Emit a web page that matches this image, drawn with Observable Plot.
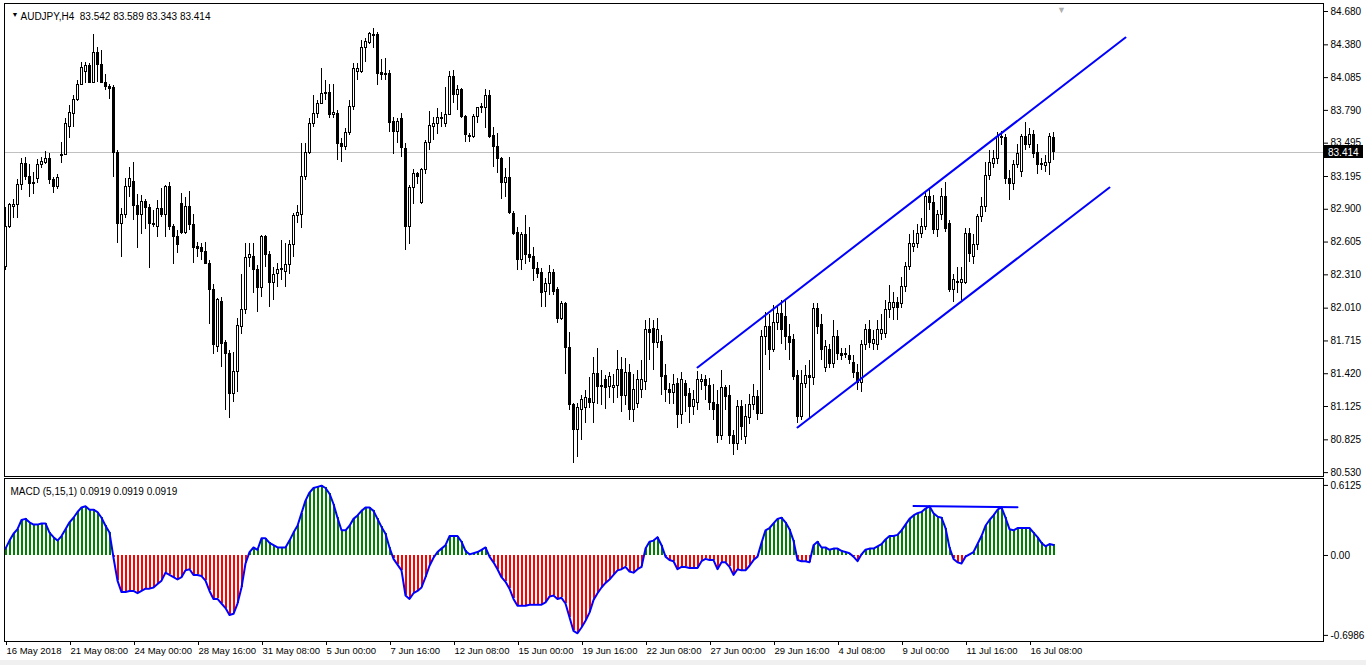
<!DOCTYPE html>
<html><head><meta charset="utf-8">
<script src="https://cdn.jsdelivr.net/npm/d3@7"></script>
<script src="https://cdn.jsdelivr.net/npm/@observablehq/plot@0.6"></script>
<style>
html,body{margin:0;padding:0;background:#f0f0f0;}
#chart{width:1366px;height:660px;background:#fff;overflow:hidden;}
#chart svg{display:block;}
</style></head><body><div id="chart"></div>
<script>
const symbol = "AUDJPY";
const timeframe = "H4";
const open = [
82.38,82.74,82.92,82.94,83.12,83.31,83.19,83.14,83.17,83.30,
83.32,83.35,83.16,83.10,83.38,83.39,83.64,83.76,83.88,84.02,
84.14,84.19,84.04,84.31,84.20,84.04,84.00,83.99,83.41,82.77,
82.85,83.10,83.15,82.93,82.85,82.97,82.91,82.77,82.74,82.90,
82.85,83.10,82.74,82.65,82.95,82.69,82.92,82.76,82.56,82.55,
82.52,82.41,82.17,81.66,82.07,81.70,81.60,81.24,81.44,81.84,
81.99,82.46,82.47,82.35,82.19,82.65,82.49,82.24,82.32,82.35,
82.34,82.40,82.58,82.84,82.85,83.19,83.41,83.67,83.76,83.85,
83.94,83.95,83.75,83.76,83.49,83.46,83.59,83.82,84.14,84.14,
84.35,84.40,84.47,84.47,84.13,84.11,84.12,83.69,83.60,83.71,
83.44,82.74,83.09,83.22,82.96,83.25,83.50,83.64,83.67,83.72,
83.67,83.75,84.09,83.93,83.97,83.73,83.56,83.55,83.73,83.81,
83.81,83.92,83.56,83.46,83.35,83.14,83.18,82.86,82.69,82.44,
82.67,82.49,82.47,82.36,82.33,82.16,82.23,82.33,82.17,81.91,
82.05,81.65,81.14,80.91,81.09,81.11,81.19,81.16,81.42,81.31,
81.36,81.30,81.29,81.31,81.45,81.22,81.43,81.09,81.15,81.27,
81.35,81.81,81.82,81.70,81.71,81.40,81.27,81.25,81.33,81.05,
81.33,81.24,81.12,81.16,81.35,81.36,81.31,81.16,81.14,80.86,
81.29,81.22,80.86,80.79,81.12,80.85,81.02,81.14,81.21,81.06,
81.75,81.84,81.63,81.88,81.96,81.93,81.75,81.72,81.40,81.03,
81.33,81.40,81.38,82.00,81.86,81.47,81.63,81.51,81.75,81.60,
81.59,81.58,81.52,81.43,81.34,81.68,81.81,81.69,81.68,81.78,
81.78,81.99,82.01,82.06,82.05,82.20,82.38,82.56,82.59,82.68,
82.74,83.01,82.96,82.71,82.85,83.01,82.77,82.17,82.24,82.24,
82.24,82.68,82.47,82.58,82.83,82.92,83.20,83.31,83.35,83.54,
83.54,83.17,83.13,83.30,83.24,83.55,83.48,83.57,83.41,83.31,
83.29,83.32,83.542];
const high = [
82.92,82.95,82.99,83.17,83.36,83.37,83.30,83.23,83.35,83.37,
83.42,83.40,83.19,83.21,83.50,83.72,83.83,83.92,84.06,84.22,
84.22,84.21,84.47,84.36,84.33,84.11,84.02,84.01,83.43,82.91,
83.18,83.28,83.32,83.03,83.02,82.99,82.94,82.89,82.98,83.09,
83.11,83.14,82.76,82.71,83.04,83.01,83.06,82.85,82.60,82.59,
82.60,82.44,82.22,82.10,82.11,81.72,81.63,81.61,81.92,82.31,
82.59,82.59,82.59,82.39,82.66,82.66,82.52,82.38,82.41,82.62,
82.59,82.62,82.86,82.93,83.49,83.49,83.72,83.92,83.88,84.17,
84.06,84.02,84.02,83.79,83.54,83.63,83.88,84.21,84.21,84.42,
84.44,84.49,84.53,84.49,84.25,84.26,84.15,83.73,83.72,83.76,
83.49,83.11,83.26,83.23,83.27,83.52,83.78,83.73,83.81,83.77,
84.00,84.14,84.15,84.01,83.99,83.74,83.58,83.75,83.82,83.85,
83.98,83.97,83.64,83.58,83.37,83.27,83.37,82.88,82.74,82.69,
82.84,82.74,82.56,82.42,82.37,82.28,82.39,82.36,82.20,82.07,
82.06,81.79,81.15,81.15,81.22,81.27,81.39,81.57,81.65,81.45,
81.40,81.43,81.41,81.63,81.57,81.56,81.50,81.41,81.45,81.54,
81.90,81.92,81.90,81.92,81.76,81.50,81.33,81.41,81.38,81.43,
81.36,81.29,81.27,81.44,81.41,81.40,81.38,81.32,81.27,81.45,
81.31,81.31,80.91,81.18,81.18,81.14,81.23,81.32,81.27,81.81,
81.97,81.95,82.03,82.03,82.08,82.08,81.86,81.77,81.45,81.45,
81.49,81.54,82.05,82.05,81.95,81.72,81.68,81.90,81.81,81.65,
81.65,81.67,81.58,81.50,81.72,81.86,81.90,81.81,81.90,81.95,
82.08,82.21,82.15,82.11,82.29,82.42,82.67,82.71,82.76,82.82,
83.05,83.09,83.02,82.89,83.09,83.14,82.80,82.31,82.38,82.38,
82.73,82.73,82.67,82.85,83.01,83.32,83.43,83.43,83.59,83.60,
83.57,83.25,83.34,83.48,83.57,83.68,83.63,83.61,83.48,83.36,
83.38,83.58,83.589];
const low = [
82.35,82.73,82.82,82.82,83.07,83.16,83.01,83.03,83.13,83.27,
83.30,83.12,83.04,83.08,83.31,83.38,83.54,83.64,83.87,84.01,
84.03,84.03,84.03,84.04,84.03,83.97,83.89,83.19,82.59,82.47,
82.82,83.01,82.80,82.55,82.67,82.72,82.37,82.74,82.65,82.83,
82.65,82.71,82.40,82.50,82.67,82.67,82.71,82.41,82.47,82.44,
82.40,81.86,81.59,81.61,81.48,81.09,81.02,81.16,81.25,81.77,
81.95,82.38,82.14,81.97,82.11,82.38,82.02,82.08,82.20,82.26,
82.20,82.31,82.47,82.77,82.73,83.16,83.39,83.64,83.72,83.84,
83.88,83.72,83.72,83.34,83.32,83.43,83.56,83.79,84.06,84.12,
84.22,84.38,84.35,84.01,84.06,84.06,83.59,83.39,83.49,83.37,
82.53,82.58,82.94,83.12,82.94,83.21,83.43,83.52,83.57,83.64,
83.64,83.74,83.85,83.79,83.72,83.50,83.50,83.54,83.67,83.76,
83.63,83.54,83.28,83.22,82.99,83.01,82.85,82.66,82.35,82.35,
82.40,82.42,82.25,82.28,82.02,82.02,82.12,82.12,81.87,81.90,
81.41,81.09,80.61,80.67,80.82,80.97,81.11,80.97,81.14,81.13,
81.10,81.20,81.15,81.20,81.07,81.13,81.00,80.98,81.11,81.20,
81.27,81.54,81.45,81.65,81.22,81.16,81.14,81.14,80.93,80.96,
81.07,80.97,81.04,81.09,81.27,81.18,81.09,81.00,80.79,80.82,
81.09,80.78,80.68,80.73,80.82,80.78,80.96,81.09,81.00,81.05,
81.58,81.45,81.61,81.81,81.68,81.63,81.54,81.36,80.97,81.00,
81.29,81.02,81.31,81.77,81.54,81.43,81.47,81.47,81.54,81.54,
81.56,81.50,81.38,81.27,81.25,81.63,81.65,81.63,81.63,81.72,
81.74,81.92,81.90,81.90,82.01,82.15,82.35,82.51,82.55,82.64,
82.71,82.89,82.67,82.65,82.80,82.69,82.15,82.06,82.14,82.08,
82.22,82.42,82.40,82.53,82.78,82.87,83.16,83.27,83.30,83.47,
83.12,82.98,83.07,83.27,83.19,83.43,83.45,83.36,83.21,83.25,
83.23,83.20,83.343];
const close = [
82.74,82.94,82.94,83.12,83.31,83.19,83.13,83.13,83.30,83.33,
83.35,83.16,83.10,83.18,83.39,83.67,83.77,83.88,84.02,84.17,
84.19,84.04,84.31,84.20,84.04,84.00,83.98,83.41,82.77,82.85,
83.10,83.17,82.93,82.85,82.97,82.91,82.77,82.76,82.90,82.85,
83.10,82.74,82.65,82.58,82.69,82.92,82.76,82.55,82.54,82.52,
82.41,82.17,81.68,82.08,81.69,81.60,81.24,81.44,81.85,81.99,
82.46,82.49,82.35,82.19,82.65,82.49,82.24,82.31,82.35,82.36,
82.40,82.58,82.84,82.87,83.19,83.41,83.67,83.76,83.85,83.94,
83.95,83.75,83.77,83.49,83.46,83.59,83.82,84.16,84.16,84.35,
84.41,84.48,84.46,84.12,84.11,84.12,83.68,83.60,83.69,83.45,
82.74,83.09,83.22,83.19,83.25,83.50,83.65,83.67,83.72,83.71,
83.75,84.09,83.93,83.97,83.73,83.57,83.55,83.73,83.81,83.82,
83.92,83.55,83.46,83.35,83.14,83.18,82.87,82.68,82.44,82.67,
82.49,82.46,82.36,82.32,82.15,82.23,82.33,82.16,81.91,82.05,
81.65,81.14,80.91,81.11,81.18,81.20,81.16,81.42,81.30,81.30,
81.29,81.39,81.31,81.45,81.22,81.43,81.09,81.27,81.36,81.36,
81.81,81.79,81.70,81.81,81.39,81.27,81.25,81.32,81.05,81.36,
81.22,81.12,81.18,81.36,81.36,81.31,81.16,81.09,80.86,81.29,
81.21,80.86,80.79,81.12,80.94,81.03,81.14,81.21,81.06,81.75,
81.84,81.63,81.88,81.96,81.81,81.75,81.70,81.39,81.03,81.33,
81.40,81.38,82.00,81.84,81.63,81.66,81.51,81.75,81.60,81.58,
81.60,81.54,81.43,81.34,81.68,81.81,81.70,81.72,81.81,81.81,
81.99,82.06,82.06,82.01,82.20,82.38,82.59,82.59,82.68,82.74,
83.01,82.96,82.71,82.85,83.01,82.72,82.17,82.26,82.25,82.26,
82.68,82.50,82.58,82.83,82.92,83.20,83.32,83.35,83.55,83.55,
83.17,83.13,83.30,83.40,83.55,83.48,83.57,83.40,83.30,83.30,
83.32,83.55,83.414];
const macd = [
0.06,0.13,0.19,0.23,0.31,0.32,0.29,0.27,0.27,0.28,
0.28,0.20,0.16,0.13,0.17,0.23,0.29,0.33,0.38,0.42,
0.43,0.40,0.40,0.38,0.33,0.26,0.20,-0.02,-0.22,-0.32,
-0.32,-0.31,-0.31,-0.33,-0.31,-0.29,-0.29,-0.28,-0.25,-0.22,
-0.15,-0.17,-0.19,-0.21,-0.19,-0.13,-0.12,-0.17,-0.17,-0.18,
-0.22,-0.31,-0.38,-0.38,-0.42,-0.46,-0.52,-0.51,-0.42,-0.28,
-0.07,0.03,0.07,0.05,0.15,0.15,0.11,0.09,0.07,0.07,
0.07,0.13,0.20,0.26,0.37,0.48,0.55,0.59,0.60,0.61,
0.59,0.54,0.45,0.33,0.22,0.22,0.26,0.32,0.35,0.39,
0.42,0.42,0.39,0.32,0.25,0.19,0.07,-0.03,-0.08,-0.13,
-0.35,-0.38,-0.33,-0.31,-0.28,-0.19,-0.09,-0.02,0.03,0.06,
0.09,0.17,0.17,0.17,0.12,0.04,0.01,0.02,0.03,0.05,
0.07,-0.01,-0.06,-0.12,-0.19,-0.23,-0.29,-0.38,-0.44,-0.44,
-0.44,-0.43,-0.43,-0.43,-0.43,-0.41,-0.36,-0.35,-0.38,-0.37,
-0.42,-0.54,-0.66,-0.68,-0.63,-0.57,-0.50,-0.39,-0.33,-0.28,
-0.24,-0.21,-0.17,-0.13,-0.12,-0.10,-0.14,-0.15,-0.12,-0.10,
0.06,0.12,0.13,0.16,0.09,-0.01,-0.04,-0.05,-0.12,-0.10,
-0.10,-0.11,-0.11,-0.11,-0.05,-0.03,-0.04,-0.04,-0.12,-0.06,
-0.06,-0.10,-0.17,-0.12,-0.13,-0.13,-0.09,-0.04,-0.01,0.11,
0.22,0.24,0.28,0.32,0.33,0.29,0.23,0.13,-0.04,-0.05,
-0.05,-0.06,0.09,0.12,0.07,0.07,0.05,0.06,0.06,0.04,
0.03,0.02,-0.01,-0.05,0.01,0.05,0.06,0.06,0.08,0.10,
0.14,0.17,0.17,0.18,0.22,0.27,0.32,0.35,0.37,0.38,
0.41,0.43,0.37,0.34,0.33,0.24,0.07,-0.03,-0.06,-0.07,
-0.01,0.01,0.03,0.10,0.17,0.26,0.31,0.35,0.40,0.42,
0.33,0.23,0.22,0.24,0.24,0.24,0.24,0.20,0.16,0.11,
0.08,0.10,0.0919];
const priceTicks = [84.680,84.380,84.085,83.790,83.495,83.195,82.900,82.605,82.310,82.010,81.715,81.420,81.125,80.825,80.530];
const macdTicks = [0.6125, 0, -0.6986];
const macdTickLabels = ["0.6125", "0.00", "-0.6986"];
const dateTickIdx = [0,16,32,48,64,80,96,112,128,144,160,176,192,208,224,240,256];
const dateLabels = ["16 May 2018","21 May 08:00","24 May 00:00","28 May 16:00","31 May 08:00","5 Jun 00:00","7 Jun 16:00","12 Jun 08:00","15 Jun 00:00","19 Jun 16:00","22 Jun 08:00","27 Jun 00:00","29 Jun 16:00","4 Jul 08:00","9 Jul 00:00","11 Jul 16:00","16 Jul 08:00"];
const upperChannelIdx = [173, 280];
const upperChannelPrice = [81.476, 84.446];
const lowerChannelIdx = [198, 276];
const lowerChannelPrice = [80.936, 83.096];
const macdTrendIdx = [227, 253];
const macdTrendValue = [0.432, 0.421];
const macdParams = "5,15,1";

const n = close.length;
const last = n - 1;
const candles = d3.range(n).map(i => ({i, o: open[i], h: high[i], l: low[i], c: close[i]}));
const macdData = macd.map((v, i) => ({i, v}));
const upper = upperChannelIdx.map((i, k) => ({i, p: upperChannelPrice[k]}));
const lower = lowerChannelIdx.map((i, k) => ({i, p: lowerChannelPrice[k]}));
const trend = macdTrendIdx.map((i, k) => ({i, v: macdTrendValue[k]}));
const f3 = d3.format(".3f");
const lastClose = close[last];
const title = `${symbol},${timeframe}\u00a0\u00a0${f3(open[last])} ${f3(high[last])} ${f3(low[last])} ${f3(close[last])}`;
const FONT = "Tahoma, 'DejaVu Sans', 'Liberation Sans', Arial, sans-serif";
const fontStyle = {fontFamily: "'Liberation Sans', Arial, sans-serif", fontSize: "10px", background: "white", color: "black", overflow: "visible"};
const xDomain = [-0.25, 329.5];

const priceBox = (index, scales, values, dimensions) => {
  const y = Math.round(scales.y(lastClose));
  const x0 = dimensions.width - dimensions.marginRight + 1;
  const g = d3.create("svg:g");
  g.append("rect").attr("x", x0).attr("y", y - 7).attr("width", 39).attr("height", 13).attr("fill", "black");
  g.append("text").attr("x", x0 + 4).attr("y", y).attr("dy", "0.35em").attr("fill", "white")
    .attr("text-anchor", "start")
    .attr("font-size", 10).attr("font-family", "'Liberation Sans', Arial, sans-serif").text(f3(lastClose));
  return g.node();
};

const main = Plot.plot({
  width: 1366, height: 477,
  marginLeft: 4, marginRight: 43, marginTop: 3, marginBottom: 1,
  x: {domain: xDomain, axis: null},
  y: {domain: [80.495, 84.752], axis: null},
  style: fontStyle,
  marks: [
    Plot.ruleY([lastClose], {stroke: "#c0c0c0", shapeRendering: "crispEdges"}),
    Plot.ruleX(candles, {x: "i", y1: "l", y2: "h", stroke: "black", shapeRendering: "crispEdges"}),
    Plot.rect(candles, {x1: d => d.i - 0.25, x2: d => d.i + 0.25, y1: "o", y2: "c",
      fill: d => d.c >= d.o ? "white" : "black", stroke: "black", shapeRendering: "crispEdges"}),
    Plot.line(upper, {x: "i", y: "p", stroke: "#0000ff", strokeWidth: 2}),
    Plot.line(lower, {x: "i", y: "p", stroke: "#0000ff", strokeWidth: 2}),
    Plot.frame({stroke: "black", shapeRendering: "crispEdges"}),
    Plot.axisY(priceTicks, {anchor: "right", tickSize: 4, tickPadding: 3, tickFormat: f3, label: null}),
    priceBox,
    Plot.text(["\u25bc"], {frameAnchor: "top-left", dx: 7, dy: 9, fontSize: 7, textAnchor: "start"}),
    Plot.text([title], {frameAnchor: "top-left", dx: 16, dy: 9, textAnchor: "start"}),
    Plot.text(["\u25bc"], {x: last + 2, frameAnchor: "top", dy: 3, fontSize: 9, fill: "#b0b0b0"})
  ]
});

const macdPlot = Plot.plot({
  width: 1366, height: 183,
  marginLeft: 4, marginRight: 43, marginTop: 1, marginBottom: 19,
  x: {domain: xDomain, axis: null},
  y: {domain: [-0.752, 0.673], axis: null},
  style: fontStyle,
  marks: [
    Plot.ruleX(macdData, {x: "i", y1: 0, y2: "v", stroke: d => d.v >= 0 ? "#008000" : "#ff0000", strokeWidth: 2, shapeRendering: "crispEdges"}),
    Plot.line(macdData, {x: "i", y: "v", stroke: "#0000ff", strokeWidth: 2}),
    Plot.line(trend, {x: "i", y: "v", stroke: "#0000ff", strokeWidth: 2}),
    Plot.frame({stroke: "black", shapeRendering: "crispEdges"}),
    Plot.axisY(macdTicks, {anchor: "right", tickSize: 4, tickPadding: 3, tickFormat: (d) => macdTickLabels[macdTicks.indexOf(d)], label: null}),
    Plot.axisX(dateTickIdx, {anchor: "bottom", tickSize: 4, tickPadding: 2, textAnchor: "start", dx: 1, fontSize: 9.5,
      tickFormat: d => dateLabels[dateTickIdx.indexOf(d)], label: null}),
    Plot.text([`MACD (${macdParams}) ${macd[last].toFixed(4)} ${macd[last].toFixed(4)} ${macd[last].toFixed(4)}`],
      {frameAnchor: "top-left", dx: 6, dy: 9, textAnchor: "start"})
  ]
});

const host = document.getElementById("chart");
host.appendChild(main);
host.appendChild(macdPlot);
</script></body></html>
